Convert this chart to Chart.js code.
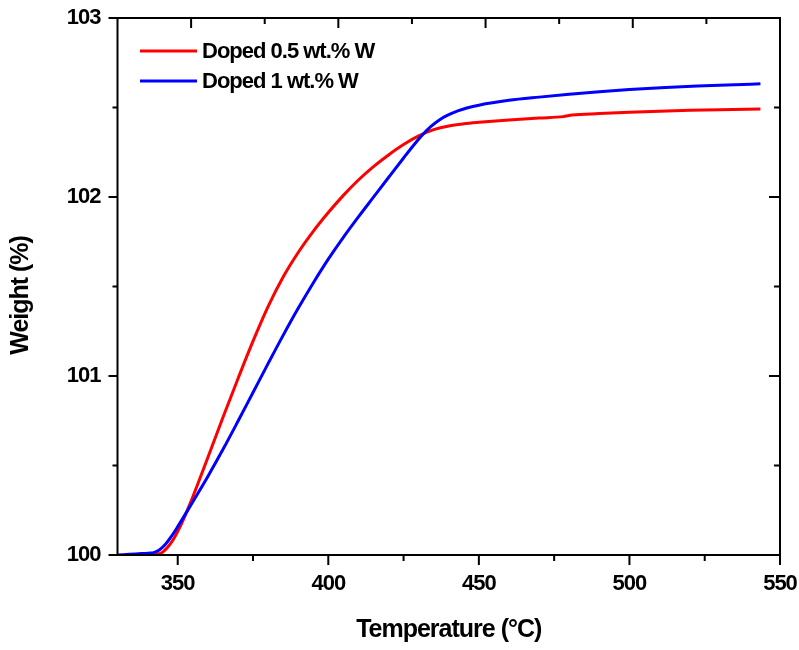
<!DOCTYPE html>
<html>
<head>
<meta charset="utf-8">
<script src="https://cdn.jsdelivr.net/npm/chart.js@4.4.1/dist/chart.umd.min.js"></script>
<style>
html,body{margin:0;padding:0;background:#fff;}
#wrap{width:799px;height:650px;position:relative;}
</style>
</head>
<body>
<div id="wrap"><canvas id="c"></canvas></div>
<script>
// ---- data ----
const seriesLabels = ['Doped 0.5 wt.% W', 'Doped 1 wt.% W'];
const seriesColors = ['#ff0000', '#0000ff'];

const tempRed   = [342.4, 345, 348, 351, 354, 357, 360, 365, 370, 375, 380, 385, 390, 395, 400, 405, 410, 415, 420, 425, 430, 435, 440, 445, 450, 460, 470, 478, 481, 490, 500, 510, 520, 530, 543.5];
const weightRed = [100.000, 100.016, 100.073, 100.166, 100.283, 100.412, 100.545, 100.768, 100.985, 101.195, 101.388, 101.553, 101.690, 101.808, 101.913, 102.009, 102.095, 102.170, 102.235, 102.293, 102.341, 102.376, 102.397, 102.409, 102.417, 102.430, 102.441, 102.449, 102.458, 102.466, 102.473, 102.479, 102.484, 102.488, 102.491];

const tempBlue   = [330, 334, 338, 341, 342, 344, 346, 348, 350, 353, 356, 360, 365, 370, 375, 380, 385, 390, 395, 400, 405, 410, 415, 420, 425, 428, 431, 434, 437, 440, 443, 446, 450, 460, 470, 480, 490, 500, 512, 525, 535, 543.5];
const weightBlue = [100.000, 100.004, 100.008, 100.011, 100.0135, 100.0295, 100.0615, 100.1065, 100.1585, 100.241, 100.325, 100.439, 100.589, 100.747, 100.908, 101.069, 101.227, 101.378, 101.520, 101.653, 101.775, 101.889, 101.999, 102.109, 102.218, 102.282, 102.342, 102.393, 102.432, 102.460, 102.481, 102.497, 102.513, 102.540, 102.558, 102.574, 102.588, 102.600, 102.612, 102.621, 102.627, 102.632];

const xMajorTicks = [350, 400, 450, 500, 550];
const xMinorTicks = [375, 425, 475, 525];
const yMajorTicks = [100, 101, 102, 103];
const yMinorTicks = [100.5, 101.5, 102.5];
const topDivisions = 9;

const xTitle = 'Temperature (°C)';
const yTitle = 'Weight (%)   ';

// ---- styling ----
const FONT = "'Liberation Sans', Arial, sans-serif";
const SPACING = '-1px';

function pts(xs, ys){ return xs.map((x,i)=>({x:x, y:ys[i]})); }

const spacingPlugin = {
  id: 'spacing',
  beforeLayout(chart){ chart.ctx.letterSpacing = SPACING; },
  beforeDraw(chart){ chart.ctx.letterSpacing = SPACING; }
};

const framePlugin = {
  id: 'frame',
  afterDatasetsDraw(chart){
    const {ctx, chartArea:a, scales:{x, y}} = chart;
    ctx.save();
    ctx.strokeStyle = '#000';
    ctx.lineWidth = 2;
    ctx.lineCap = 'butt';
    ctx.strokeRect(a.left, a.top, a.right - a.left, a.bottom - a.top);
    ctx.beginPath();
    // bottom (outward)
    xMajorTicks.forEach(v=>{const p=x.getPixelForValue(v); ctx.moveTo(p,a.bottom); ctx.lineTo(p,a.bottom+10);});
    xMinorTicks.forEach(v=>{const p=x.getPixelForValue(v); ctx.moveTo(p,a.bottom); ctx.lineTo(p,a.bottom+6);});
    // left (outward)
    yMajorTicks.forEach(v=>{const p=y.getPixelForValue(v); ctx.moveTo(a.left,p); ctx.lineTo(a.left-9,p);});
    yMinorTicks.forEach(v=>{const p=y.getPixelForValue(v); ctx.moveTo(a.left,p); ctx.lineTo(a.left-5,p);});
    // right (inward)
    yMajorTicks.forEach(v=>{const p=y.getPixelForValue(v); ctx.moveTo(a.right,p); ctx.lineTo(a.right-11,p);});
    yMinorTicks.forEach(v=>{const p=y.getPixelForValue(v); ctx.moveTo(a.right,p); ctx.lineTo(a.right-6,p);});
    // top (inward)
    const w = (a.right - a.left) / topDivisions;
    for (let i = 1; i < topDivisions; i++){
      const p = a.left + i*w;
      ctx.moveTo(p, a.top); ctx.lineTo(p, a.top + (i % 2 === 1 ? 10 : 6));
    }
    ctx.stroke();

    // legend
    ctx.letterSpacing = SPACING;
    ctx.font = 'bold 22px ' + FONT;
    ctx.textBaseline = 'middle';
    ctx.fillStyle = '#000';
    chart.data.datasets.forEach((ds, i)=>{
      const yy = 51 + i*30;
      ctx.beginPath();
      ctx.strokeStyle = ds.borderColor;
      ctx.lineWidth = 3;
      ctx.moveTo(140, yy); ctx.lineTo(197, yy);
      ctx.stroke();
      ctx.fillText(ds.label, 202, yy + 1);
    });
    ctx.restore();
  }
};

new Chart(document.getElementById('c'), {
  type: 'line',
  data: {
    datasets: [
      { label: seriesLabels[0], data: pts(tempRed, weightRed), borderColor: seriesColors[0], borderWidth: 3, pointRadius: 0, cubicInterpolationMode: 'monotone', fill: false, order: 1 },
      { label: seriesLabels[1], data: pts(tempBlue, weightBlue), borderColor: seriesColors[1], borderWidth: 3, pointRadius: 0, cubicInterpolationMode: 'monotone', fill: false, order: 0 }
    ]
  },
  options: {
    responsive: true,
    maintainAspectRatio: false,
    animation: false,
    events: [],
    layout: { padding: { left: 0, right: 19, top: 18, bottom: 0 } },
    plugins: { legend: { display: false }, tooltip: { enabled: false } },
    scales: {
      x: {
        type: 'linear', min: 330, max: 550,
        afterBuildTicks: s => { s.ticks = xMajorTicks.map(v=>({value:v})); },
        afterFit: s => { s.height = 95; s.paddingLeft = 0; s.paddingRight = 0; },
        grid: { display: true, drawOnChartArea: false, drawTicks: true, tickLength: 10, color: 'rgba(0,0,0,0)' },
        border: { display: false },
        ticks: { color: '#000', padding: 6, maxRotation: 0, font: { family: FONT, size: 22, weight: 'bold' } },
        title: { display: true, text: xTitle, color: '#000', padding: { top: 0, bottom: 5 }, font: { family: FONT, size: 25, weight: 'bold' } }
      },
      y: {
        type: 'linear', min: 100, max: 103,
        afterBuildTicks: s => { s.ticks = yMajorTicks.map(v=>({value:v})); },
        afterFit: s => { s.width = 117.5; s.paddingTop = 0; s.paddingBottom = 0; },
        grid: { display: true, drawOnChartArea: false, drawTicks: true, tickLength: 9, color: 'rgba(0,0,0,0)' },
        border: { display: false },
        ticks: { color: '#000', padding: 8, font: { family: FONT, size: 22, weight: 'bold' } },
        title: { display: true, text: yTitle, color: '#000', padding: { top: 6, bottom: 0 }, font: { family: FONT, size: 25, weight: 'bold' } }
      }
    }
  },
  plugins: [spacingPlugin, framePlugin]
});
</script>
</body>
</html>
